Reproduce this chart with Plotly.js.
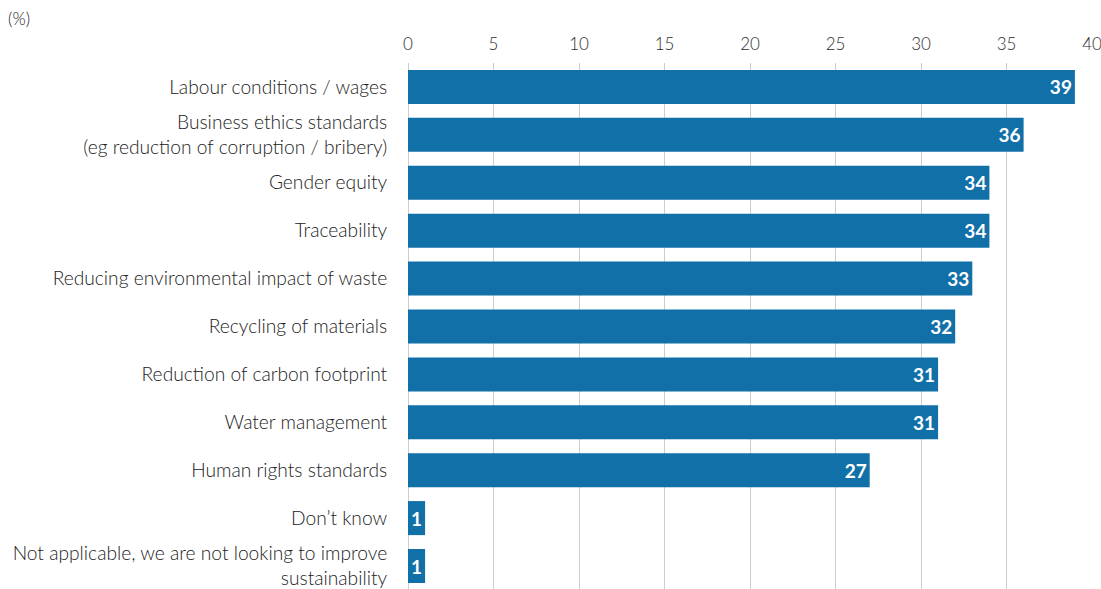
<!DOCTYPE html>
<html><head><meta charset="utf-8">
<script src="https://cdn.plot.ly/plotly-3.0.1.min.js"></script>
<style>html,body{margin:0;padding:0;background:#fff}</style>
</head><body><div id="chart" style="width:1101px;height:589px"></div>
<script>
const categories = [
  "Labour conditions / wages",
  "Business ethics standards<br>(eg reduction of corruption / bribery)",
  "Gender equity",
  "Traceability",
  "Reducing environmental impact of waste",
  "Recycling of materials",
  "Reduction of carbon footprint",
  "Water management",
  "Human rights standards",
  "Don’t know",
  "Not applicable, we are not looking to improve<br>sustainability"
];
const values = [39, 36, 34, 34, 33, 32, 31, 31, 27, 1, 1];
const tickValues = [0, 5, 10, 15, 20, 25, 30, 35, 40];

const trace = {
  type: 'bar', orientation: 'h',
  x: values, y: categories,
  marker: {color: '#1170a8'},
  text: values.map(String), textposition: 'inside', insidetextanchor: 'end',
  textfont: {family: 'Lato, sans-serif', size: 19, color: '#ffffff', weight: 700},
  constraintext: 'none', cliponaxis: false, hoverinfo: 'none'
};
const layout = {
  width: 1101, height: 589,
  margin: {l: 408, r: 9, t: 63, b: 0, pad: 0},
  paper_bgcolor: '#fff', plot_bgcolor: '#fff',
  bargap: 0.29, showlegend: false,
  font: {family: 'Lato, sans-serif', color: '#333'},
  xaxis: {side: 'top', range: [0, 40], tickvals: tickValues, ticktext: tickValues.map(String),
    showgrid: true, gridcolor: '#cccccc', gridwidth: 1, zeroline: true, zerolinecolor: '#cccccc', zerolinewidth: 1,
    showline: false, ticks: 'outside', ticklen: 5, tickcolor: 'rgba(0,0,0,0)', ticklabeloverflow: 'allow',
    tickfont: {size: 17, color: '#2e2e2e', family: 'Lato, sans-serif', weight: 300}, fixedrange: true},
  yaxis: {type: 'category', autorange: false, range: [10.48, -0.5], showgrid: false, zeroline: false,
    ticks: 'outside', ticklen: 16, tickcolor: 'rgba(0,0,0,0)',
    tickfont: {size: 19.2, color: '#222', family: 'Lato, sans-serif', weight: 300}, fixedrange: true},
  annotations: [{text: '(%)', xref: 'paper', yref: 'paper', x: -402/684, y: 1 + 45/526, xanchor: 'left', yanchor: 'middle',
    showarrow: false, font: {size: 17, color: '#222', family: 'Lato, sans-serif', weight: 300}}]
};
Plotly.newPlot('chart', [trace], layout, {displayModeBar: false, staticPlot: true});
</script></body></html>
